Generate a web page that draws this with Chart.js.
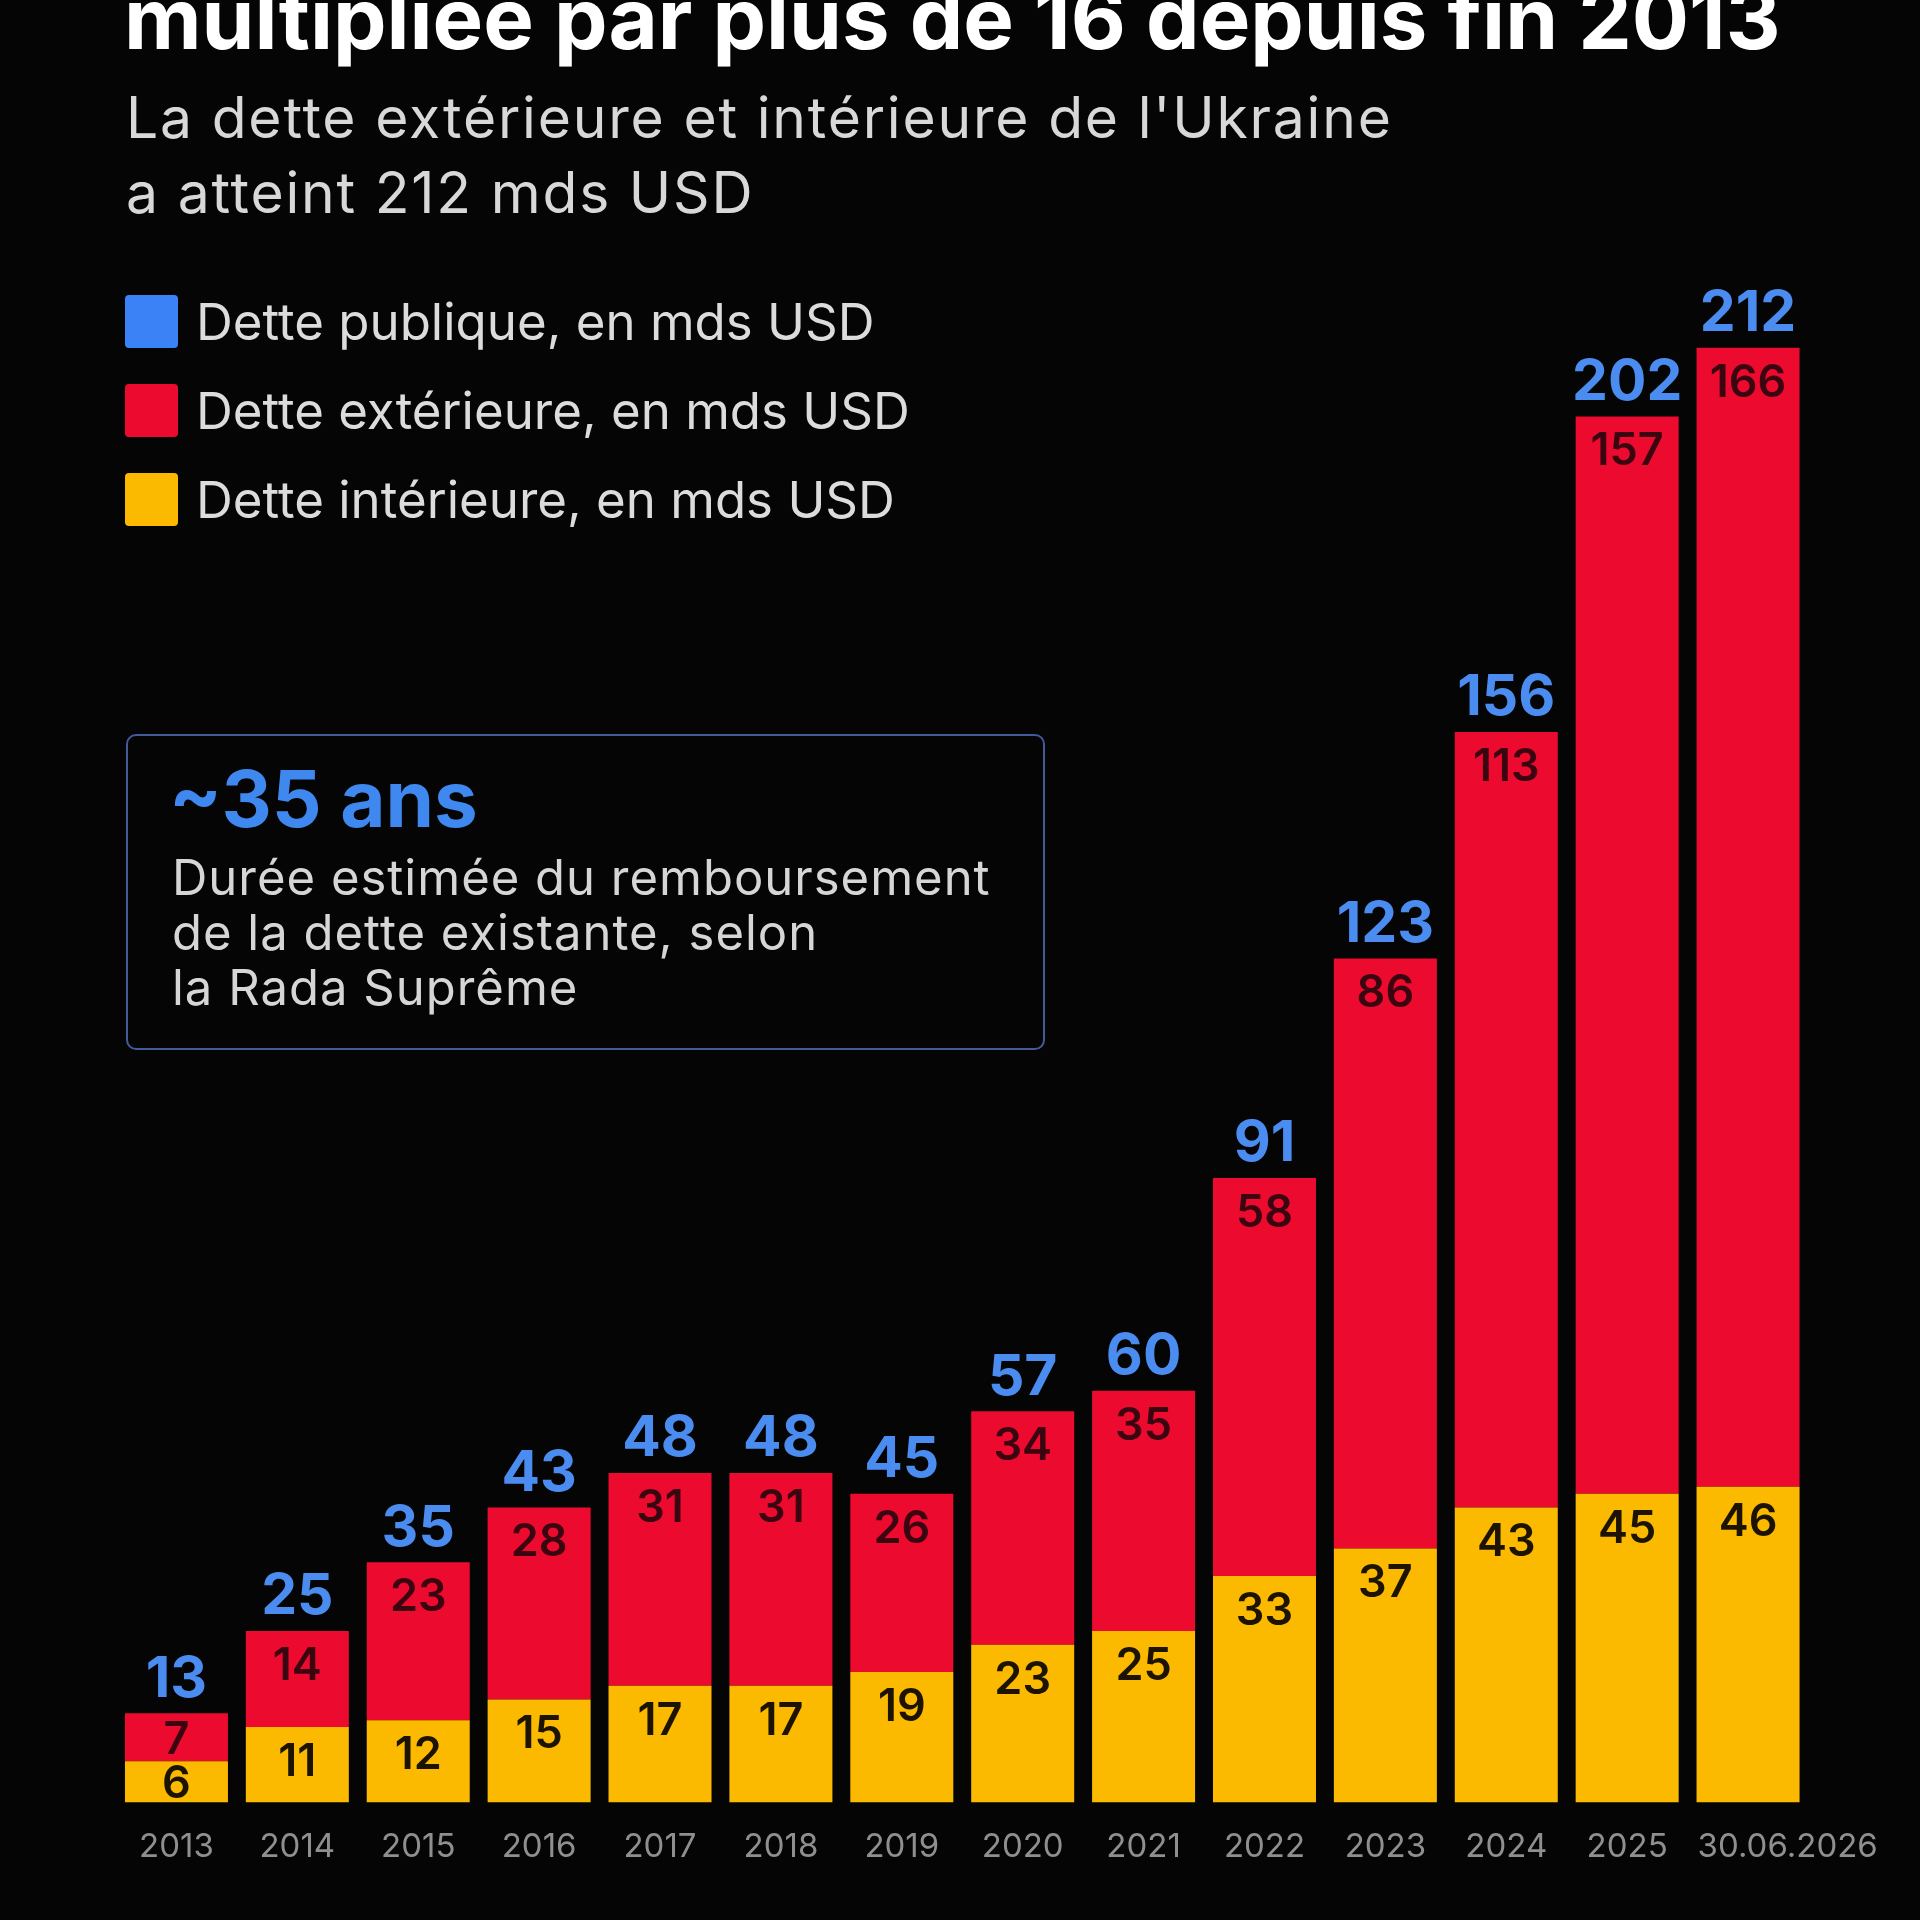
<!DOCTYPE html>
<html>
<head>
<meta charset="utf-8">
<script src="https://cdn.jsdelivr.net/npm/chart.js@4.4.1/dist/chart.umd.min.js"></script>
<style>
  html, body { margin: 0; padding: 0; background: #050505; }
  #page { position: relative; width: 1920px; height: 1920px; overflow: hidden; background: #050505; font-family: Inter, "Noto Sans", sans-serif; }
  #chart { position: absolute; left: 0; top: 0; }
  .txt { position: absolute; white-space: nowrap; }
  .title { left: 124px; top: -24px; font-size: 85px; line-height: 85px; font-weight: 700; color: #ffffff; }
  .subtitle { left: 126px; top: 80px; font-size: 57px; line-height: 75px; color: #d8d8d8; letter-spacing: 1.8px; }
  .swatch { position: absolute; left: 125px; width: 53px; height: 53px; border-radius: 4px; }
  .leg { left: 196px; font-size: 51px; line-height: 53px; color: #dcdcdc; }
  #box { position: absolute; left: 126px; top: 734px; width: 919px; height: 316px; box-sizing: border-box; border: 2px solid #43599a; border-radius: 10px; }
  .big { left: 169px; top: 760px; font-size: 78px; line-height: 78px; font-weight: 700; color: #3f88f0; }
  .desc { left: 172px; top: 850px; font-size: 49px; line-height: 55px; color: #d6d6d6; letter-spacing: 1px; }
</style>
</head>
<body>
<div id="page">
  <canvas id="chart" width="1920" height="1920"></canvas>

  <div class="txt title">multipliée par plus de 16 depuis fin 2013</div>
  <div class="txt subtitle">La dette extérieure et intérieure de l'Ukraine<br>a atteint 212 mds USD</div>

  <div class="swatch" style="top:295px;background:#3b82f6"></div>
  <div class="txt leg" style="top:295px">Dette publique, en mds USD</div>
  <div class="swatch" style="top:384px;background:#ec0a2e"></div>
  <div class="txt leg" style="top:384px">Dette extérieure, en mds USD</div>
  <div class="swatch" style="top:473px;background:#fbba00"></div>
  <div class="txt leg" style="top:473px">Dette intérieure, en mds USD</div>

  <div id="box"></div>
  <div class="txt big">~35 ans</div>
  <div class="txt desc">Durée estimée du remboursement<br>de la dette existante, selon<br>la Rada Suprême</div>
</div>

<script>
// values in bn USD
const years = ["2013", "2014", "2015", "2016", "2017", "2018", "2019", "2020", "2021", "2022", "2023", "2024", "2025", "30.06.2026"];
const interieure = [6, 11, 12, 15, 17, 17, 19, 23, 25, 33, 37, 43, 45, 46];
const exterieure = [7, 14, 23, 28, 31, 31, 26, 34, 35, 58, 86, 113, 157, 166];
const publique = [13, 25, 35, 43, 48, 48, 45, 57, 60, 91, 123, 156, 202, 212];

const YELLOW = "#fbba00";
const RED = "#ec0a2e";
const BLUE_TXT = "#4a8cf0";
const FONT = "Inter, 'Noto Sans', sans-serif";

// draws the numbers on/above the bars and the year labels under them
const labelPlugin = {
    id: "barLabels",
    afterDatasetsDraw(chart) {
        const ctx = chart.ctx;
        const y = chart.scales.y;
        const yellowBars = chart.getDatasetMeta(0).data;
        const base = y.getPixelForValue(0);

        ctx.save();
        ctx.textAlign = "center";
        ctx.textBaseline = "alphabetic";

        years.forEach((yr, i) => {
            const x = yellowBars[i].x;

            // segment values
            const yTop = y.getPixelForValue(interieure[i]);
            const rTop = y.getPixelForValue(interieure[i] + exterieure[i]);
            ctx.font = "600 45px " + FONT;
            const cap = 45 * 0.727;

            let cy = Math.min(yTop + 32.5, (yTop + base) / 2);
            ctx.fillStyle = "#1c1400";
            ctx.fillText(String(interieure[i]), x, cy + cap / 2);

            cy = Math.min(rTop + 32.5, (rTop + yTop) / 2);
            ctx.fillStyle = "#3a0510";
            ctx.fillText(String(exterieure[i]), x, cy + cap / 2);

            // total above
            ctx.font = "700 57px " + FONT;
            ctx.fillStyle = BLUE_TXT;
            const tTop = y.getPixelForValue(publique[i]);
            ctx.fillText(String(publique[i]), x, tTop - 37.5 + 57 * 0.727 / 2);

            // year under the bar
            ctx.font = "400 33px " + FONT;
            ctx.fillStyle = "#8f8f8f";
            if (i === years.length - 1) {
                ctx.textAlign = "left";
                ctx.fillText(yr, x - yellowBars[i].width / 2 + 1, 1857);
                ctx.textAlign = "center";
            } else {
                ctx.fillText(yr, x, 1857);
            }
        });
        ctx.restore();
    }
};

const ctx = document.getElementById("chart").getContext("2d");

new Chart(ctx, {
    type: "bar",
    data: {
        labels: years,
        datasets: [
            {
                label: "Dette intérieure, en mds USD",
                data: interieure,
                backgroundColor: YELLOW,
                barPercentage: 0.852,
                categoryPercentage: 1,
            },
            {
                label: "Dette extérieure, en mds USD",
                data: exterieure,
                backgroundColor: RED,
                barPercentage: 0.852,
                categoryPercentage: 1,
            },
        ],
    },
    options: {
        responsive: false,
        devicePixelRatio: 1,
        animation: false,
        layout: {
            padding: { left: 116, right: 111.5, top: 87, bottom: 117.5 },
        },
        plugins: {
            legend: { display: false },
            tooltip: { enabled: false },
        },
        scales: {
            x: { stacked: true, display: false },
            y: { stacked: true, display: false, min: 0, max: 250 },
        },
    },
    plugins: [labelPlugin],
});
</script>
</body>
</html>
